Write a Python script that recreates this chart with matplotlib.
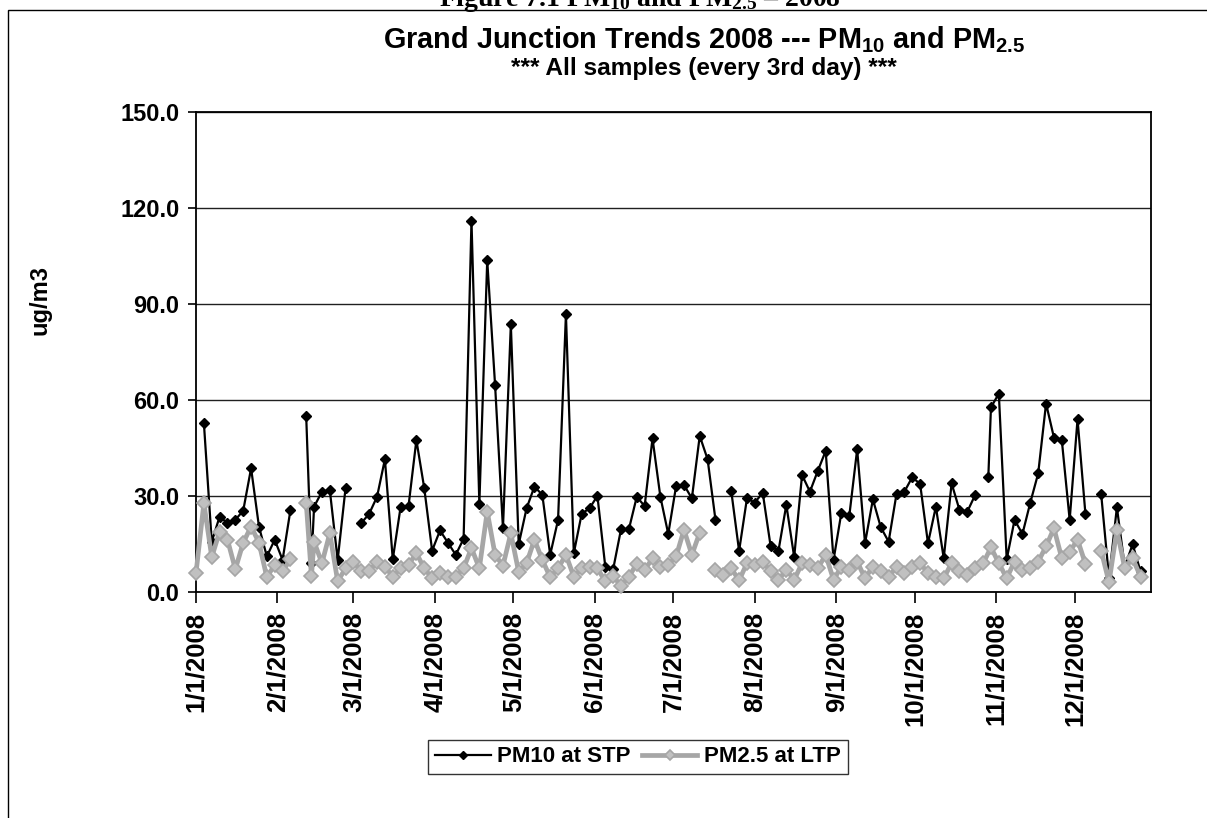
import numpy as np
import pandas as pd
import matplotlib
matplotlib.use("Agg")
import matplotlib.pyplot as plt
import matplotlib.dates as mdates
from matplotlib.ticker import FuncFormatter
from matplotlib.patches import Rectangle

# ---------------- data ----------------
# regular sampling schedule (every 3rd day) + a few extra samples
schedule = pd.date_range("2008-01-01", "2008-12-29", freq="3D")

pm10_values = [
    np.nan, 52.9, 15.8, 23.6, 21.6, 22.6, 25.5, 38.7, 20.5, 11.2,
    16.4, 10.1, 25.7, np.nan, 55.0, 26.7, 31.4, 31.9, 10.1, 32.5,
    np.nan, 21.6, 24.5, 29.8, 41.5, 10.3, 26.7, 26.9, 47.5, 32.5,
    13.0, 19.3, 15.5, 11.7, 16.7, 116.0, 27.6, 103.6, 64.6, 20.0,
    83.6, 15.0, 26.2, 33.0, 30.4, 11.7, 22.6, 86.8, 12.2, 24.5,
    26.2, 30.1, 8.0, 7.2, 19.7, 19.7, 29.8, 26.9, 48.0, 29.8,
    18.2, 33.2, 33.5, 29.3, 48.8, 41.5, 22.6, np.nan, 31.7, 12.9,
    29.3, 28.0, 31.1, 14.5, 12.9, 27.3, 11.0, 36.6, 31.4, 37.9,
    44.1, 10.1, 24.9, 23.8, 44.6, 15.3, 29.0, 20.3, 15.8, 30.7,
    31.4, 35.9, 33.8, 15.3, 26.7, 10.6, 34.0, 25.7, 25.2, 30.4,
    np.nan, 57.7, 62.0, 10.3, 22.6, 18.2, 28.0, 37.1, 58.9, 48.3,
    47.5, 22.6, 54.0, 24.5, np.nan, 30.7, 4.5, 26.5, 8.0, 15.0,
    6.5, np.nan,
]
pm10_extra_dates = ["2008-02-14", "2008-10-29"]
pm10_extra_values = [9.2, 36.1]

pm25_values = [
    6.0, 27.8, 11.0, 18.9, 16.4, 7.2, 15.5, 20.5, 15.5, 4.7,
    8.6, 6.5, 10.3, np.nan, 28.0, 15.8, 9.1, 18.4, 3.4, 7.5,
    9.6, 6.5, 6.5, 9.6, 8.0, 4.9, 7.5, 8.6, 12.2, 7.5,
    4.4, 6.0, 4.9, 4.9, 7.5, 13.8, 7.5, 25.2, 11.7, 8.3,
    18.4, 6.3, 9.1, 16.4, 10.1, 4.7, 7.5, 11.7, 4.9, 7.5,
    8.0, 7.5, 3.4, 5.0, 2.0, 4.9, 8.9, 7.0, 10.6, 8.0,
    8.6, 11.2, 19.5, 11.7, 18.6, np.nan, 7.0, 5.5, 7.5, 3.7,
    9.1, 8.6, 9.6, 6.5, 3.9, 7.0, 3.9, 9.1, 8.6, 7.5,
    11.7, 3.9, 8.0, 7.0, 9.6, 4.4, 8.0, 6.5, 4.7, 8.0,
    6.0, 8.0, 9.1, 6.0, 4.9, 4.4, 9.1, 6.5, 5.5, 7.5,
    9.0, 14.0, 9.1, 4.4, 9.6, 7.0, 7.5, 9.6, 14.3, 20.0,
    10.6, 12.7, 16.4, 8.9, np.nan, 13.0, 3.1, 19.5, 7.5, 10.6,
    4.9, np.nan,
]
pm25_extra_dates = ["2008-02-14"]
pm25_extra_values = [5.1]

series_labels = ["PM10 at STP", "PM2.5 at LTP"]
y_ticks = [0, 30, 60, 90, 120, 150]


def build(values, extra_dates, extra_values):
    s = pd.Series(values, index=schedule)
    e = pd.Series(extra_values, index=pd.to_datetime(extra_dates))
    return pd.concat([s, e]).sort_index()


pm10 = build(pm10_values, pm10_extra_dates, pm10_extra_values)
pm25 = build(pm25_values, pm25_extra_dates, pm25_extra_values)

# ---------------- style ----------------
plt.rcParams["font.family"] = ["Liberation Sans", "DejaVu Sans"]
plt.rcParams["font.weight"] = "bold"
plt.rcParams["mathtext.fontset"] = "custom"
plt.rcParams["mathtext.rm"] = "Liberation Sans:bold"
plt.rcParams["mathtext.it"] = "Liberation Sans:bold"
plt.rcParams["mathtext.bf"] = "Liberation Sans:bold"
plt.rcParams["mathtext.sf"] = "Liberation Serif:bold"
plt.rcParams["mathtext.default"] = "rm"

W, H = 1207, 818
fig = plt.figure(figsize=(W / 100, H / 100), dpi=100)
fig.patch.set_facecolor("white")

# outer chart frame (extends past right/bottom of image)
fig.patches.append(Rectangle((8 / W, -0.2), 2.0, 1.2 - 10 / H, transform=fig.transFigure,
                             fill=False, edgecolor="black", linewidth=1.0))

# clipped document caption at very top
fig.text(640 / W, 1 - 6 / H, r"Figure 7.1 PM$\mathsf{_{10}}$ and PM$\mathsf{_{2.5}}$ – 2008",
         ha="center", va="baseline", fontsize=20, family="Liberation Serif", weight="bold")

ax = fig.add_axes([196 / W, 1 - 592.3 / H, (1151 - 196) / W, (592.3 - 111.6) / H])

ax.plot(pm10.index, pm10.values, color="black", linewidth=1.6, marker="D",
        markersize=5.4, markerfacecolor="black", markeredgecolor="black",
        label=series_labels[0], zorder=3, clip_on=False)
ax.plot(pm25.index, pm25.values, color="#A6A6A6", linewidth=3.4, marker="D",
        markersize=7.0, markerfacecolor="#C0C0C0", markeredgecolor="#A6A6A6",
        markeredgewidth=1.2, label=series_labels[1], zorder=4, clip_on=False)

ax.set_xlim(pd.Timestamp("2008-01-01"), pd.Timestamp("2008-12-30"))
ax.set_ylim(0, 150)
ax.set_yticks(y_ticks)
ax.yaxis.set_major_formatter(FuncFormatter(lambda v, p: f"{v:.1f}"))
ax.grid(axis="y", color="#202020", linewidth=1.0)
ax.set_axisbelow(True)

ax.xaxis.set_major_locator(mdates.MonthLocator())


def date_fmt(v, p):
    d = mdates.num2date(v)
    return f"{d.month}/{d.day}/{d.year}"


ax.xaxis.set_major_formatter(FuncFormatter(date_fmt))
ax.tick_params(axis="x", direction="out", length=8, width=1.2, pad=6,
               labelsize=18.5, labelrotation=90)
ax.tick_params(axis="y", direction="out", length=6, width=1.2, pad=6, labelsize=17)
for lab in ax.get_xticklabels() + ax.get_yticklabels():
    lab.set_fontweight("bold")

for sp in ax.spines.values():
    sp.set_color("black")
    sp.set_linewidth(1.3)

fig.text(40 / W, 1 - 300 / H, "ug/m3", rotation=90, ha="center", va="center",
         fontsize=17, weight="bold")

fig.text(704 / W, 1 - 40 / H, r"Grand Junction Trends 2008 --- PM$_{10}$ and PM$_{2.5}$",
         ha="center", va="center", fontsize=20.8, weight="bold")
fig.text(704 / W, 1 - 69 / H, "*** All samples (every 3rd day) ***",
         ha="center", va="center", fontsize=17.6, weight="bold")

leg = fig.legend(loc="center", bbox_to_anchor=(638 / W, 1 - 757 / H), ncol=2,
                 frameon=True, fancybox=False, edgecolor="black", fontsize=16,
                 handlelength=2.5, columnspacing=0.5, handletextpad=0.3,
                 borderpad=0.3, borderaxespad=0, markerscale=0.75)
leg.get_frame().set_linewidth(1.0)
for t in leg.get_texts():
    t.set_fontweight("bold")

fig.savefig("out.png", dpi=100)
